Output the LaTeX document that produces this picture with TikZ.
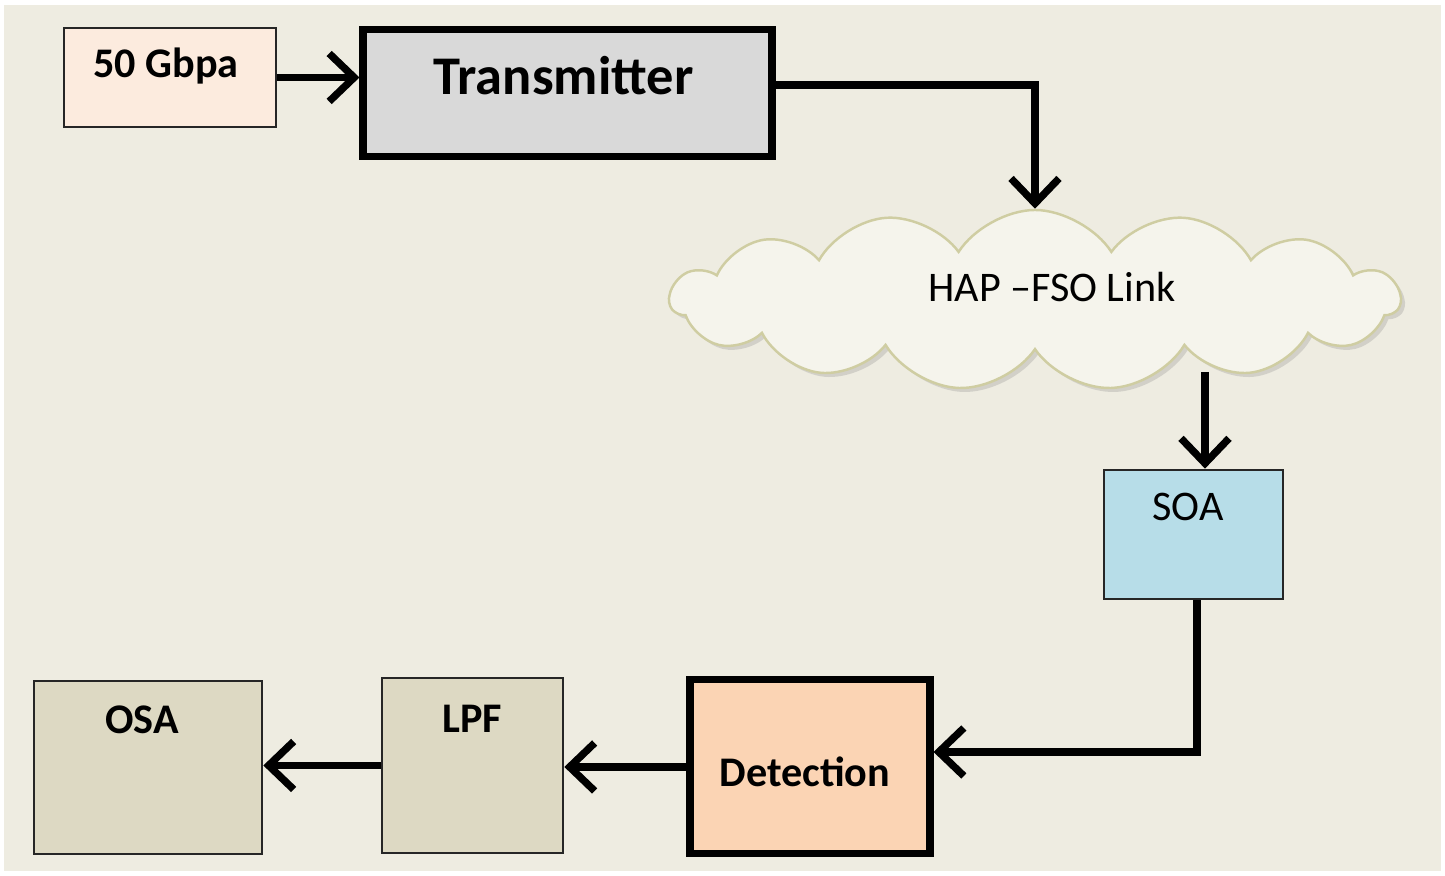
\documentclass[tikz,border=0pt]{standalone}
\usepackage{fontspec}
\setmainfont{Carlito}
\usetikzlibrary{arrows.meta,shapes.symbols,shadows}

\definecolor{bgtan}{HTML}{EEECE1}
\definecolor{gbpsfill}{HTML}{FCEBDE}
\definecolor{txfill}{HTML}{D9D9D9}
\definecolor{cloudfill}{HTML}{F5F4EC}
\definecolor{cloudline}{HTML}{CFCDA2}
\definecolor{soafill}{HTML}{B7DDE8}
\definecolor{detfill}{HTML}{FBD4B4}
\definecolor{rxfill}{HTML}{DDD9C3}

\tikzset{
  blk/.style={draw=black!85, line width=0.75pt, inner sep=0pt},
  thickblk/.style={draw=black, line width=2pt, inner sep=0pt},
  lbl/.style={anchor=base, inner sep=0pt, font=\fontsize{12}{14}\selectfont},
  wire/.style={line width=2.1pt, -{Straight Barb[length=2.5mm,width=4.8mm]}},
}

\begin{document}
\begin{tikzpicture}
    \fill[white] (0,0) rectangle (14.45,8.76);
    \fill[bgtan] (0.04,0.05) rectangle (14.41,8.71);
    % transmitter side
    \node[blk, fill=gbpsfill, minimum width=2.12cm, minimum height=0.99cm] (gbps) at (1.70,7.985) {};
    \node[thickblk, fill=txfill, minimum width=4.09cm, minimum height=1.27cm] (tx) at (5.675,7.825) {};
    \node[lbl, font=\fontsize{12}{14}\selectfont\bfseries] (gbps-t) at (1.66,7.98) {50 Gbpa};
    \node[lbl, font=\fontsize{15.5}{18}\selectfont\bfseries] (tx-t) at (5.635,7.81) {Transmitter};
    % channel
    \node[cloud, cloud puffs=15, cloud puff arc=115, cloud ignores aspect,
          draw=cloudline, line width=0.7pt, fill=cloudfill,
          drop shadow={shadow xshift=0.4mm, shadow yshift=-0.4mm, opacity=0.25},
          minimum width=7.3cm, minimum height=1.8cm] (link) at (10.35,5.76) {};
    \node[lbl] (link-t) at (10.52,5.74) {HAP --FSO Link};
    % receiver side
    \node[blk, fill=soafill, minimum width=1.79cm, minimum height=1.29cm] (soa) at (11.935,3.415) {};
    \node[lbl] (soa-t) at (11.88,3.55) {SOA};
    \node[thickblk, fill=detfill, minimum width=2.40cm, minimum height=1.74cm] (det) at (8.10,1.09) {};
    \node[blk, fill=rxfill, minimum width=1.81cm, minimum height=1.75cm] (lpf) at (4.725,1.105) {};
    \node[blk, fill=rxfill, minimum width=2.28cm, minimum height=1.73cm] (osa) at (1.48,1.085) {};
    \node[lbl, font=\fontsize{12}{14}\selectfont\bfseries] (det-t) at (8.05,0.89) {Detection};
    \node[lbl, font=\fontsize{12}{14}\selectfont\bfseries] (lpf-t) at (4.72,1.43) {LPF};
    \node[lbl, font=\fontsize{12}{14}\selectfont\bfseries] (osa-t) at (1.42,1.42) {OSA};
    \coordinate (link-out) at (12.05,5.04);
    % signal path
    \draw[wire] (gbps.east) -- (gbps.east -| tx.west);
    \draw[wire] ([yshift=0.85mm]tx.east) -| (link.north);
    \draw[wire] (link-out) -- (link-out |- soa.north);
    \draw[wire] ([xshift=0.35mm]soa.south) |- ([yshift=1.5mm]det.east);
    \draw[wire] (det.west) -- (det.west -| lpf.east);
    \draw[wire] (lpf.west) -- (lpf.west -| osa.east);
\end{tikzpicture}
\end{document}
